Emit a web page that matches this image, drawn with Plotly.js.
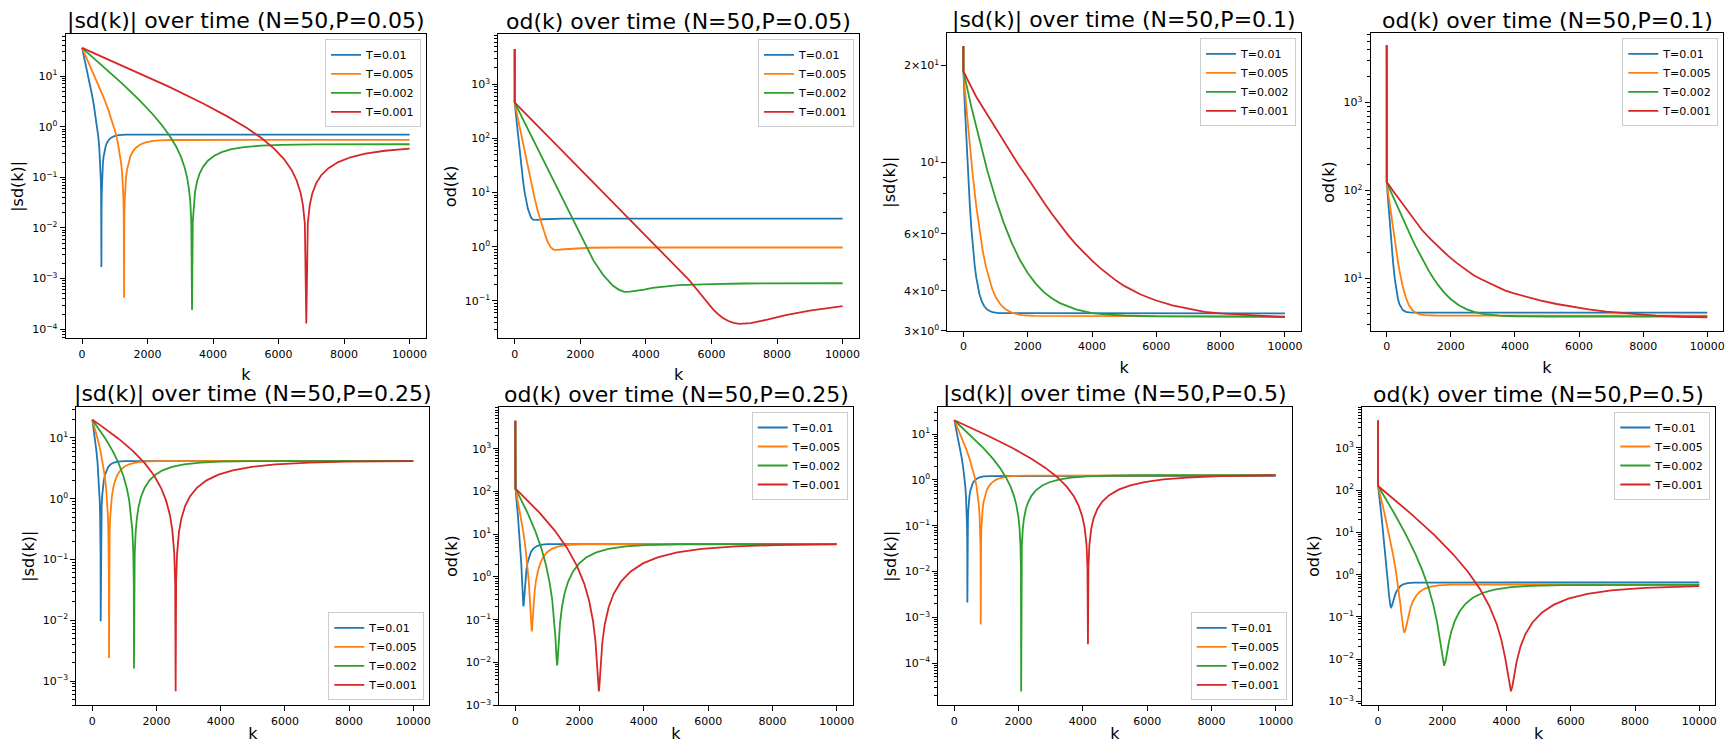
<!DOCTYPE html>
<html><head><meta charset="utf-8">
<script src="https://cdn.plot.ly/plotly-3.0.1.min.js"></script>
<style>html,body{margin:0;padding:0;background:#fff}#chart{width:1725px;height:743px}</style>
</head><body><div id="chart"></div>
<script>
const seriesNames = ["T=0.01", "T=0.005", "T=0.002", "T=0.001"];
const seriesColors = ["#1f77b4", "#ff7f0e", "#2ca02c", "#d62728"];
const panelTitles = ["|sd(k)| over time (N=50,P=0.05)", "od(k) over time (N=50,P=0.05)",
  "|sd(k)| over time (N=50,P=0.1)", "od(k) over time (N=50,P=0.1)",
  "|sd(k)| over time (N=50,P=0.25)", "od(k) over time (N=50,P=0.25)",
  "|sd(k)| over time (N=50,P=0.5)", "od(k) over time (N=50,P=0.5)"];
const yLabels = ["|sd(k)|", "od(k)", "|sd(k)|", "od(k)", "|sd(k)|", "od(k)", "|sd(k)|", "od(k)"];
const xLabel = "k";
const xTickVals = [0, 2000, 4000, 6000, 8000, 10000];
const xTickText = ["0", "2000", "4000", "6000", "8000", "10000"];

// Panel 1: |sd(k)|, P=0.05
const p1_T1_k = [0, 178, 281, 355, 414, 458, 494, 524, 546, 561, 572, 580, 586, 590, 594, 600, 608, 619, 634, 656, 686, 722, 766, 825, 899, 1002, 1119, 1325, 10000];
const p1_T1_v = [36, 10.8, 5.02, 2.77, 1.62, 1.02, 0.641, 0.398, 0.245, 0.155, 0.0893, 0.0508, 0.0213, 0.0017, 0.0207, 0.0473, 0.0792, 0.127, 0.181, 0.254, 0.335, 0.415, 0.489, 0.559, 0.614, 0.657, 0.681, 0.695, 0.70];
const p1_T2_k = [0, 436, 648, 799, 920, 1010, 1086, 1146, 1191, 1222, 1246, 1261, 1273, 1282, 1291, 1303, 1318, 1342, 1373, 1418, 1478, 1554, 1644, 1765, 1916, 2128, 2369, 2792, 10000];
const p1_T2_v = [36, 8.49, 3.94, 2.17, 1.276, 0.803, 0.504, 0.313, 0.192, 0.122, 0.0701, 0.0399, 0.0167, 0.00042, 0.0163, 0.0372, 0.0622, 0.0997, 0.1426, 0.199, 0.263, 0.326, 0.384, 0.439, 0.483, 0.517, 0.535, 0.546, 0.55];
const p1_T3_k = [0, 1243, 1772, 2149, 2451, 2677, 2866, 3017, 3131, 3206, 3266, 3304, 3334, 3357, 3380, 3410, 3448, 3508, 3584, 3697, 3848, 4037, 4263, 4565, 4943, 5471, 6075, 7132, 10000];
const p1_T3_v = [36, 6.95, 3.22, 1.78, 1.044, 0.657, 0.412, 0.256, 0.157, 0.0996, 0.0574, 0.0326, 0.0137, 0.00024, 0.0133, 0.0304, 0.0509, 0.0816, 0.1166, 0.163, 0.215, 0.267, 0.314, 0.359, 0.395, 0.423, 0.438, 0.447, 0.45];
const p1_T4_k = [0, 2646, 3696, 4446, 5046, 5496, 5871, 6171, 6396, 6546, 6666, 6741, 6801, 6846, 6891, 6951, 7026, 7146, 7296, 7521, 7821, 8196, 8646, 9246, 10000];
const p1_T4_v = [36, 6.18, 2.87, 1.58, 0.928, 0.584, 0.366, 0.227, 0.14, 0.0886, 0.051, 0.029, 0.0122, 0.00013, 0.0124, 0.0284, 0.0475, 0.0761, 0.1089, 0.152, 0.2, 0.249, 0.294, 0.335, 0.369];

// Panel 2: od(k), P=0.05
const p2_T1_k = [0, 1, 50, 100, 150, 200, 250, 300, 350, 400, 450, 500, 560, 620, 700, 850, 1100, 1500, 10000];
const p2_T1_v = [4500, 460, 231, 117, 60.2, 31.7, 17.5, 10.4, 6.8, 5.06, 4.18, 3.45, 3.17, 3.12, 3.15, 3.22, 3.28, 3.3, 3.3];
const p2_T2_k = [0, 1, 100, 200, 300, 400, 500, 600, 700, 800, 900, 1000, 1100, 1200, 1300, 1500, 1800, 2300, 3000, 10000];
const p2_T2_v = [4500, 460, 230, 116, 58.8, 30, 15.5, 8.3, 4.64, 2.81, 1.89, 1.25, 0.97, 0.88, 0.875, 0.9, 0.93, 0.96, 0.97, 0.97];
const p2_T3_k = [0, 1, 300, 600, 900, 1200, 1500, 1800, 2100, 2400, 2700, 3000, 3170, 3343, 3520, 3700, 3950, 4200, 4600, 5000, 6000, 7000, 10000];
const p2_T3_v = [4500, 460, 198, 85, 36.4, 15.6, 6.7, 2.88, 1.24, 0.56, 0.30, 0.19, 0.162, 0.147, 0.148, 0.152, 0.162, 0.175, 0.187, 0.195, 0.205, 0.21, 0.212];
const p2_T4_k = [0, 1, 1000, 2000, 3000, 4000, 4500, 4750, 5000, 5150, 5300, 5450, 5600, 5750, 5900, 6050, 6200, 6350, 6500, 6675, 6850, 7025, 7200, 7450, 7700, 8300, 9000, 10000];
const p2_T4_v = [4500, 460, 112, 27.2, 6.6, 1.61, 0.79, 0.556, 0.39, 0.313, 0.25, 0.195, 0.15, 0.115, 0.088, 0.07, 0.057, 0.0484, 0.043, 0.0394, 0.0376, 0.038, 0.039, 0.042, 0.045, 0.055, 0.066, 0.08];

// Panel 3: |sd(k)|, P=0.1
const p3_T1_k = [0, 1, 50, 100, 150, 200, 250, 300, 350, 400, 450, 500, 575, 650, 750, 900, 1100, 10000];
const p3_T1_v = [23, 19.2, 14.59, 11.33, 9.02, 7.38, 6.22, 5.40, 4.81, 4.40, 4.11, 3.90, 3.70, 3.58, 3.49, 3.43, 3.41, 3.40];
const p3_T2_k = [0, 1, 100, 200, 300, 400, 500, 600, 700, 800, 900, 1000, 1150, 1300, 1500, 1800, 2200, 10000];
const p3_T2_v = [23, 19.2, 14.57, 11.29, 8.97, 7.33, 6.16, 5.33, 4.75, 4.34, 4.04, 3.83, 3.63, 3.51, 3.42, 3.36, 3.34, 3.33];
const p3_T3_k = [0, 1, 250, 500, 750, 1000, 1250, 1500, 1750, 2000, 2250, 2500, 2750, 3000, 3500, 4000, 4500, 5000, 6000, 10000];
const p3_T3_v = [23, 19.2, 14.85, 11.69, 9.39, 7.73, 6.52, 5.64, 5.0, 4.54, 4.21, 3.96, 3.79, 3.66, 3.50, 3.41, 3.37, 3.35, 3.33, 3.32];
const p3_T4_k = [0, 1, 200, 400, 650, 900, 1150, 1400, 1700, 2000, 2250, 2500, 2750, 3000, 3250, 3500, 3750, 4000, 4250, 4500, 4750, 5000, 5250, 5500, 5750, 6000, 6500, 7000, 7500, 8000, 9000, 10000];
const p3_T4_v = [23, 19.2, 17.52, 16.0, 14.58, 13.3, 12.09, 11.0, 9.90, 8.95, 8.19, 7.53, 6.93, 6.41, 5.96, 5.57, 5.24, 4.96, 4.71, 4.5, 4.30, 4.14, 4.01, 3.9, 3.81, 3.73, 3.60, 3.51, 3.44, 3.40, 3.35, 3.31];

// Panel 4: od(k), P=0.1
const p4_T1_k = [0, 1, 25, 50, 75, 100, 125, 150, 175, 200, 250, 300, 350, 400, 450, 500, 600, 700, 900, 10000];
const p4_T1_v = [4500, 125, 93.6, 70.4, 53.1, 40.4, 30.9, 24.0, 18.8, 15.0, 10.06, 7.36, 5.88, 5.08, 4.64, 4.39, 4.19, 4.13, 4.10, 4.1];
const p4_T2_k = [0, 1, 50, 100, 150, 200, 250, 300, 350, 400, 450, 500, 600, 700, 800, 900, 1000, 1200, 1500, 10000];
const p4_T2_v = [4500, 125, 90.6, 66.0, 48.4, 35.7, 26.7, 20.2, 15.55, 12.22, 9.84, 8.13, 6.02, 4.94, 4.39, 4.10, 3.95, 3.84, 3.81, 3.8];
const p4_T3_k = [0, 1, 100, 200, 300, 400, 500, 600, 700, 800, 900, 1000, 1150, 1300, 1450, 1600, 1800, 2000, 2250, 2500, 2750, 3000, 3500, 4000, 5000, 10000];
const p4_T3_v = [4500, 125, 102.8, 84.7, 69.9, 57.8, 47.9, 39.8, 33.2, 27.8, 23.4, 19.8, 15.6, 12.48, 10.18, 8.49, 6.9, 5.84, 4.99, 4.48, 4.17, 3.98, 3.80, 3.74, 3.705, 3.70];
const p4_T4_k = [0, 1, 200, 400, 750, 1100, 1375, 1650, 1925, 2200, 2450, 2700, 2950, 3200, 3450, 3700, 3975, 4250, 4775, 5300, 5800, 6300, 6850, 7400, 7900, 8400, 9200, 10000];
const p4_T4_v = [4500, 125, 98.8, 78.3, 52.6, 35.7, 27.9, 22.1, 18.0, 14.9, 12.74, 11.0, 9.83, 8.85, 8.01, 7.31, 6.79, 6.35, 5.66, 5.15, 4.77, 4.48, 4.22, 4.04, 3.90, 3.80, 3.69, 3.64];

// Panel 5: |sd(k)|, P=0.25
const p5_T1_k = [0, 22, 82, 126, 163, 193, 215, 230, 242, 250, 256, 260, 264, 270, 278, 290, 305, 327, 357, 394, 438, 498, 572, 676, 795, 1003, 10000];
const p5_T1_v = [20, 16.6, 9.74, 6.13, 3.85, 2.39, 1.47, 0.93, 0.536, 0.305, 0.128, 0.0096, 0.124, 0.284, 0.475, 0.761, 1.089, 1.522, 2.008, 2.492, 2.935, 3.352, 3.686, 3.945, 4.085, 4.172, 4.2];
const p5_T2_k = [0, 45, 164, 253, 327, 386, 430, 460, 483, 498, 510, 516, 519, 522, 528, 540, 555, 578, 608, 652, 711, 785, 874, 993, 1141, 1348, 1585, 1999, 10000];
const p5_T2_v = [20, 16.6, 9.74, 6.13, 3.85, 2.39, 1.47, 0.93, 0.536, 0.305, 0.128, 0.042, 0.0024, 0.0418, 0.124, 0.284, 0.475, 0.761, 1.089, 1.522, 2.008, 2.492, 2.935, 3.352, 3.686, 3.945, 4.085, 4.172, 4.2];
const p5_T3_k = [0, 112, 409, 631, 816, 965, 1076, 1150, 1209, 1246, 1276, 1291, 1298, 1305, 1320, 1350, 1387, 1446, 1520, 1631, 1780, 1965, 2187, 2484, 2854, 3373, 3966, 5003, 10000];
const p5_T3_v = [20, 16.6, 9.74, 6.13, 3.85, 2.39, 1.47, 0.93, 0.536, 0.305, 0.128, 0.042, 0.0016, 0.0418, 0.124, 0.284, 0.475, 0.761, 1.089, 1.522, 2.008, 2.492, 2.935, 3.352, 3.686, 3.945, 4.085, 4.172, 4.2];
const p5_T4_k = [0, 223, 816, 1261, 1632, 1929, 2151, 2299, 2418, 2492, 2552, 2581, 2596, 2611, 2640, 2700, 2774, 2893, 3041, 3263, 3560, 3931, 4376, 4969, 5710, 6748, 7935, 10000];
const p5_T4_v = [20, 16.6, 9.74, 6.13, 3.85, 2.39, 1.47, 0.93, 0.536, 0.305, 0.128, 0.042, 0.00068, 0.0418, 0.124, 0.284, 0.475, 0.761, 1.089, 1.522, 2.008, 2.492, 2.935, 3.352, 3.686, 3.945, 4.085, 4.172];

// Panel 6: od(k), P=0.25
const p6_T1_k = [0, 1, 15, 74, 118, 155, 184, 206, 221, 232, 240, 250, 260, 268, 279, 294, 316, 345, 382, 426, 485, 558, 660, 778, 983, 10000];
const p6_T1_v = [4500, 116, 89.5, 30.9, 12.37, 4.99, 2.045, 0.899, 0.48, 0.293, 0.23, 0.206, 0.226, 0.273, 0.388, 0.584, 0.95, 1.505, 2.211, 2.989, 3.838, 4.598, 5.239, 5.604, 5.836, 5.9];
const p6_T2_k = [0, 1, 31, 151, 240, 315, 375, 419, 449, 473, 488, 500, 509, 518, 530, 545, 569, 599, 643, 703, 778, 867, 987, 1136, 1345, 1584, 2002, 10000];
const p6_T2_v = [4500, 116, 89.35, 30.75, 12.22, 4.84, 1.90, 0.753, 0.334, 0.146, 0.0835, 0.0588, 0.0535, 0.0586, 0.080, 0.128, 0.246, 0.447, 0.822, 1.39, 2.113, 2.91, 3.78, 4.558, 5.214, 5.588, 5.825, 5.9];
const p6_T3_k = [0, 1, 81, 386, 614, 805, 957, 1071, 1148, 1209, 1247, 1277, 1292, 1300, 1308, 1323, 1353, 1391, 1452, 1529, 1643, 1795, 1986, 2214, 2519, 2900, 3434, 4043, 5110, 10000];
const p6_T3_v = [4500, 116, 89.3, 30.7, 12.18, 4.80, 1.854, 0.708, 0.289, 0.1015, 0.0386, 0.0139, 0.0092, 0.0086, 0.0092, 0.0137, 0.0355, 0.084, 0.202, 0.405, 0.782, 1.354, 2.082, 2.884, 3.76, 4.543, 5.204, 5.581, 5.82, 5.89];
const p6_T4_k = [0, 1, 161, 770, 1227, 1608, 1913, 2142, 2294, 2416, 2492, 2553, 2584, 2599, 2614, 2645, 2706, 2782, 2904, 3056, 3285, 3590, 3971, 4428, 5037, 5799, 6866, 8086, 10000];
const p6_T4_v = [4500, 116, 89.3, 30.7, 12.17, 4.79, 1.847, 0.701, 0.282, 0.095, 0.0321, 0.0074, 0.0027, 0.0021, 0.0027, 0.0073, 0.029, 0.0775, 0.196, 0.399, 0.777, 1.35, 2.079, 2.882, 3.759, 4.543, 5.205, 5.58, 5.80];

// Panel 7: |sd(k)|, P=0.5
const p7_T1_k = [0, 105, 176, 233, 276, 312, 341, 362, 376, 388, 395, 401, 405, 409, 415, 422, 434, 448, 469, 498, 534, 577, 634, 705, 805, 920, 1120, 10000];
const p7_T1_v = [20, 8.96, 4.94, 2.9, 1.825, 1.144, 0.71, 0.437, 0.277, 0.159, 0.0906, 0.038, 0.0021, 0.036, 0.0825, 0.138, 0.221, 0.316, 0.442, 0.583, 0.724, 0.853, 0.974, 1.071, 1.146, 1.187, 1.212, 1.22];
const p7_T2_k = [0, 212, 357, 473, 560, 633, 691, 734, 763, 786, 801, 812, 818, 821, 824, 830, 841, 856, 879, 908, 951, 1009, 1082, 1169, 1285, 1430, 1632, 1864, 2270, 10000];
const p7_T2_v = [20, 8.96, 4.94, 2.9, 1.825, 1.144, 0.71, 0.437, 0.277, 0.159, 0.0906, 0.038, 0.0126, 0.0007, 0.0124, 0.0369, 0.0845, 0.1414, 0.2266, 0.324, 0.453, 0.5975, 0.742, 0.8735, 0.9976, 1.097, 1.174, 1.216, 1.242, 1.25];
const p7_T3_k = [0, 538, 905, 1198, 1419, 1602, 1749, 1859, 1932, 1991, 2028, 2057, 2072, 2079, 2086, 2101, 2130, 2167, 2226, 2299, 2409, 2556, 2739, 2960, 3253, 3620, 4134, 4721, 5748, 10000];
const p7_T3_v = [20, 8.96, 4.94, 2.9, 1.825, 1.144, 0.71, 0.437, 0.277, 0.159, 0.0906, 0.038, 0.0126, 0.000024, 0.0126, 0.0375, 0.0859, 0.1437, 0.2302, 0.329, 0.46, 0.607, 0.754, 0.8875, 1.0136, 1.1146, 1.193, 1.2355, 1.262, 1.27];
const p7_T4_k = [0, 1076, 1810, 2397, 2837, 3204, 3498, 3718, 3864, 3982, 4055, 4114, 4143, 4158, 4173, 4202, 4261, 4334, 4452, 4598, 4818, 5112, 5479, 5919, 6506, 7240, 8268, 9442, 10000];
const p7_T4_v = [20, 8.96, 4.94, 2.9, 1.825, 1.144, 0.71, 0.437, 0.277, 0.159, 0.0906, 0.038, 0.0126, 0.00026, 0.0127, 0.0378, 0.0865, 0.1448, 0.232, 0.332, 0.464, 0.612, 0.76, 0.8945, 1.0215, 1.123, 1.202, 1.245, 1.265];

// Panel 8: od(k), P=0.5
const p8_T1_k = [0, 1, 105, 176, 233, 276, 312, 341, 362, 376, 388, 405, 422, 434, 448, 469, 498, 534, 577, 634, 705, 805, 920, 1120, 10000];
const p8_T1_v = [4500, 126, 25.3, 7.83, 2.81, 1.214, 0.581, 0.328, 0.23, 0.194, 0.178, 0.17, 0.176, 0.186, 0.203, 0.234, 0.282, 0.3425, 0.409, 0.482, 0.547, 0.602, 0.634, 0.653, 0.66];
const p8_T2_k = [0, 1, 201, 349, 467, 555, 629, 688, 733, 762, 786, 800, 821, 842, 856, 880, 910, 954, 1013, 1087, 1175, 1293, 1441, 1647, 1883, 2296, 10000];
const p8_T2_v = [4500, 126, 28.16, 8.60, 2.99, 1.209, 0.502, 0.22, 0.11, 0.0698, 0.0519, 0.0459, 0.043, 0.0455, 0.05, 0.061, 0.0798, 0.115, 0.168, 0.236, 0.31, 0.392, 0.465, 0.526, 0.561, 0.583, 0.59];
const p8_T3_k = [0, 1, 494, 867, 1164, 1388, 1574, 1723, 1835, 1909, 1969, 2006, 2058, 2110, 2147, 2207, 2281, 2393, 2542, 2728, 2952, 3249, 3622, 4143, 4739, 5781, 10000];
const p8_T3_v = [4500, 126, 29.28, 8.92, 3.075, 1.221, 0.485, 0.191, 0.0768, 0.0349, 0.0163, 0.01, 0.007, 0.0096, 0.0143, 0.0257, 0.0453, 0.0818, 0.137, 0.208, 0.285, 0.37, 0.446, 0.51, 0.546, 0.569, 0.577];
const p8_T4_k = [0, 1, 1011, 1755, 2351, 2797, 3169, 3467, 3690, 3839, 3958, 4033, 4092, 4137, 4182, 4241, 4316, 4435, 4584, 4807, 5105, 5477, 5923, 6519, 7263, 8305, 9496, 10000];
const p8_T4_v = [4500, 126, 28.35, 8.63, 2.971, 1.176, 0.464, 0.18, 0.0694, 0.0288, 0.0108, 0.0047, 0.0023, 0.00175, 0.0023, 0.0043, 0.0089, 0.0199, 0.0389, 0.0743, 0.128, 0.196, 0.271, 0.353, 0.427, 0.489, 0.524, 0.54];

// Y tick values and labels per panel
const p1_yTickVals = [1e-4, 1e-3, 1e-2, 1e-1, 1, 10];
const p1_yTickText = ["10<sup>−4</sup>", "10<sup>−3</sup>", "10<sup>−2</sup>", "10<sup>−1</sup>", "10<sup>0</sup>", "10<sup>1</sup>"];
const p2_yTickVals = [1e-1, 1, 10, 100, 1000];
const p2_yTickText = ["10<sup>−1</sup>", "10<sup>0</sup>", "10<sup>1</sup>", "10<sup>2</sup>", "10<sup>3</sup>"];
const p3_yTickVals = [3, 4, 6, 10, 20];
const p3_yTickText = ["3×10<sup>0</sup>", "4×10<sup>0</sup>", "6×10<sup>0</sup>", "10<sup>1</sup>", "2×10<sup>1</sup>"];
const p4_yTickVals = [10, 100, 1000];
const p4_yTickText = ["10<sup>1</sup>", "10<sup>2</sup>", "10<sup>3</sup>"];
const p5_yTickVals = [1e-3, 1e-2, 1e-1, 1, 10];
const p5_yTickText = ["10<sup>−3</sup>", "10<sup>−2</sup>", "10<sup>−1</sup>", "10<sup>0</sup>", "10<sup>1</sup>"];
const p6_yTickVals = [1e-3, 1e-2, 1e-1, 1, 10, 100, 1000];
const p6_yTickText = ["10<sup>−3</sup>", "10<sup>−2</sup>", "10<sup>−1</sup>", "10<sup>0</sup>", "10<sup>1</sup>", "10<sup>2</sup>", "10<sup>3</sup>"];
const p7_yTickVals = [1e-4, 1e-3, 1e-2, 1e-1, 1, 10];
const p7_yTickText = ["10<sup>−4</sup>", "10<sup>−3</sup>", "10<sup>−2</sup>", "10<sup>−1</sup>", "10<sup>0</sup>", "10<sup>1</sup>"];
const p8_yTickVals = [1e-3, 1e-2, 1e-1, 1, 10, 100, 1000];
const p8_yTickText = ["10<sup>−3</sup>", "10<sup>−2</sup>", "10<sup>−1</sup>", "10<sup>0</sup>", "10<sup>1</sup>", "10<sup>2</sup>", "10<sup>3</sup>"];

const panelData = [
  [[p1_T1_k, p1_T1_v], [p1_T2_k, p1_T2_v], [p1_T3_k, p1_T3_v], [p1_T4_k, p1_T4_v]],
  [[p2_T1_k, p2_T1_v], [p2_T2_k, p2_T2_v], [p2_T3_k, p2_T3_v], [p2_T4_k, p2_T4_v]],
  [[p3_T1_k, p3_T1_v], [p3_T2_k, p3_T2_v], [p3_T3_k, p3_T3_v], [p3_T4_k, p3_T4_v]],
  [[p4_T1_k, p4_T1_v], [p4_T2_k, p4_T2_v], [p4_T3_k, p4_T3_v], [p4_T4_k, p4_T4_v]],
  [[p5_T1_k, p5_T1_v], [p5_T2_k, p5_T2_v], [p5_T3_k, p5_T3_v], [p5_T4_k, p5_T4_v]],
  [[p6_T1_k, p6_T1_v], [p6_T2_k, p6_T2_v], [p6_T3_k, p6_T3_v], [p6_T4_k, p6_T4_v]],
  [[p7_T1_k, p7_T1_v], [p7_T2_k, p7_T2_v], [p7_T3_k, p7_T3_v], [p7_T4_k, p7_T4_v]],
  [[p8_T1_k, p8_T1_v], [p8_T2_k, p8_T2_v], [p8_T3_k, p8_T3_v], [p8_T4_k, p8_T4_v]]
];
const yTicks = [[p1_yTickVals, p1_yTickText], [p2_yTickVals, p2_yTickText], [p3_yTickVals, p3_yTickText], [p4_yTickVals, p4_yTickText],
  [p5_yTickVals, p5_yTickText], [p6_yTickVals, p6_yTickText], [p7_yTickVals, p7_yTickText], [p8_yTickVals, p8_yTickText]];

// ---- layout (positions / styles) ----
const W = 1725, H = 743;
const panelBoxes = [ // left, top, right, bottom (px)
  [65.7, 34.3, 426, 338.3], [498.3, 34.3, 859, 338.3], [947.3, 33.3, 1301, 331], [1370.7, 33.3, 1723.3, 331],
  [76.3, 407, 429.3, 705.3], [499.3, 407, 852.7, 705.3], [938.3, 407, 1291.7, 705.3], [1362, 407, 1715.3, 705.3]];
const yRanges = [[-4.178, 1.824], [-1.69, 3.923], [0.477, 1.401], [0.405, 3.788],
  [-3.40, 1.51], [-3.0, 3.974], [-4.92, 1.59], [-3.09, 3.97]];
const legendLower = [false, false, false, false, true, false, true, false];

function minorLog(lo, hi) {
  const out = [];
  for (let d = lo; d <= hi; d++) for (let m = 2; m <= 9; m++) out.push(m * Math.pow(10, d));
  return out;
}
const minorSets = [minorLog(-5, 2), minorLog(-2, 4), [5, 7, 8, 9], minorLog(0, 4),
  minorLog(-4, 2), minorLog(-4, 4), minorLog(-5, 2), minorLog(-4, 4)];

const FONT = "DejaVu Sans, Verdana, sans-serif";
const traces = [];
const layout = {
  width: W, height: H,
  margin: {l: 0, r: 0, t: 0, b: 0},
  paper_bgcolor: "#fff", plot_bgcolor: "#fff",
  font: {family: FONT, color: "#000", size: 11},
  hovermode: false,
  annotations: []
};

for (let p = 0; p < 8; p++) {
  const n = p + 1;
  const xa = n === 1 ? "x" : "x" + n;
  const ya = n === 1 ? "y" : "y" + n;
  const legName = n === 1 ? "legend" : "legend" + n;
  const [l, t, r, b] = panelBoxes[p];
  for (let s = 0; s < 4; s++) {
    traces.push({
      type: "scatter", mode: "lines",
      x: panelData[p][s][0], y: panelData[p][s][1],
      name: seriesNames[s],
      line: {color: seriesColors[s], width: 1.8},
      xaxis: xa, yaxis: ya, legend: legName
    });
  }
  const axCommon = {
    showline: true, linecolor: "#000", linewidth: 1, mirror: true,
    ticks: "outside", ticklen: 5, tickwidth: 1, tickcolor: "#000",
    showgrid: false, zeroline: false,
    tickfont: {family: FONT, size: 11, color: "#000"}
  };
  layout[n === 1 ? "xaxis" : "xaxis" + n] = Object.assign({}, axCommon, {
    domain: [l / W, r / W], anchor: ya,
    range: [-500, 10500], tickmode: "array", tickvals: xTickVals, ticktext: xTickText,
    title: {text: xLabel, font: {family: FONT, size: 16, color: "#000"}, standoff: 9}
  });
  layout[n === 1 ? "yaxis" : "yaxis" + n] = Object.assign({}, axCommon, {
    domain: [1 - b / H, 1 - t / H], anchor: xa,
    type: "log", range: yRanges[p],
    tickmode: "array", tickvals: yTicks[p][0], ticktext: yTicks[p][1],
    minor: {tickmode: "array", tickvals: minorSets[p], ticks: "outside", ticklen: 3, tickwidth: 0.8, tickcolor: "#000", showgrid: false},
    title: {text: yLabels[p], font: {family: FONT, size: 16, color: "#000"}, standoff: 4}
  });
  const leg = {
    bgcolor: "rgba(255,255,255,0.8)", bordercolor: "#cccccc", borderwidth: 1,
    font: {family: FONT, size: 11, color: "#000"},
    xanchor: "right", x: (r - 5) / W, itemwidth: 30,
    tracegroupgap: 0
  };
  if (legendLower[p]) { leg.yanchor = "bottom"; leg.y = 1 - (b - 5) / H; }
  else { leg.yanchor = "top"; leg.y = 1 - (t + 5) / H; }
  layout[legName] = leg;
  layout.annotations.push({
    text: panelTitles[p], xref: "paper", yref: "paper",
    x: (l + r) / 2 / W, y: 1 - (t - 13) / H, xanchor: "center", yanchor: "middle",
    showarrow: false, font: {family: FONT, size: 22, color: "#000"}
  });
}

Plotly.newPlot("chart", traces, layout, {displayModeBar: false, responsive: false});
</script></body></html>
